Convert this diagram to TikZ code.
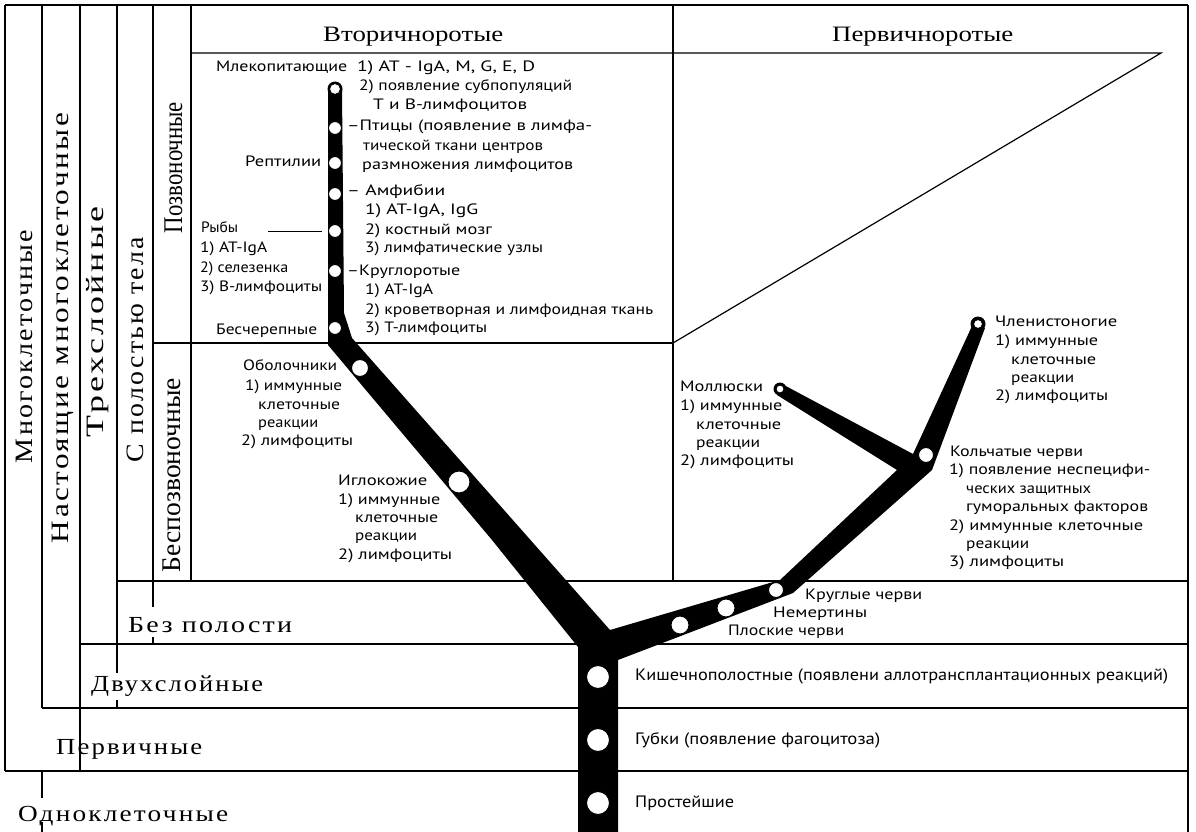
\documentclass[tikz,border=0pt]{standalone}
\usepackage{fontspec}
\usepackage{graphicx}
\setmainfont{PT Sans}
\newfontfamily\hdr{Liberation Serif}
\newfontfamily\hdrsp[LetterSpace=8]{Liberation Serif}
\newcommand\fitw[2]{\resizebox{#1pt}{\height}{#2}}
\tikzset{
  ln/.style={line width=1.2pt},
  sm/.style={anchor=mid west, inner sep=0pt, font=\fontsize{15}{17}\selectfont},
  bt/.style={anchor=mid west, inner sep=0pt, font=\fontsize{16.5}{19}\selectfont},
  hd/.style={anchor=base west, inner sep=0pt, font=\hdr\fontsize{22}{24}\selectfont},
  rowlab/.style={anchor=base west, inner sep=0pt, font=\hdrsp\fontsize{23}{26}\selectfont},
  vlab/.style={anchor=base, rotate=90, inner sep=0pt, font=\hdrsp\fontsize{25}{28}\selectfont},
  vlabb/.style={anchor=base, rotate=90, inner sep=0pt, font=\hdr\fontsize{27}{30}\selectfont},
  wc/.style={circle, fill=white, draw=black, line width=1pt, inner sep=0pt},
}
\begin{document}
\begin{tikzpicture}[x=1pt,y=-1pt]
\useasboundingbox (0,0) rectangle (1196,832);
\fill[white] (0,0) rectangle (1196,832);

% ---------- frame and grid ----------
\draw[ln] (5,5) -- (1188,5);
\draw[ln] (1188,5) -- (1188,832);
\draw[ln] (5,5) -- (5,771);
\draw[ln] (5,771) -- (1188,771);
\draw[ln] (42,708) -- (1188,708);
\draw[ln] (80,644) -- (1188,644);
\draw[ln] (117,581) -- (1188,581);
\draw[ln] (153,343) -- (673,343);
\draw[ln] (191,53) -- (1161,53) -- (673,343);
\draw[ln] (42,5) -- (42,708);
\draw[ln] (42,771) -- (42,798) (42,822) -- (42,832);
\draw[ln] (80,5) -- (80,771);
\draw[ln] (117,5) -- (117,673) (117,700) -- (117,708);
\draw[ln] (153,5) -- (153,607) (153,637) -- (153,644);
\draw[ln] (191,5) -- (191,581);
\draw[ln] (673,5) -- (673,581);

% ---------- tree ----------
\fill[black] (328,90) -- (328,345) -- (492,540) -- (578,647) -- (578,832) -- (618,832)
  -- (618,660) -- (793,593) -- (932,470) -- (985,328) -- (972,326) -- (913,454)
  -- (782,384) -- (777,395) -- (897,470) -- (780,580) -- (610,630) -- (352,338)
  -- (344,313) -- (342,90) -- cycle;
\fill[black] (335,89) circle[radius=7.5];
\fill[black] (780,389) circle[radius=6.5];
\fill[black] (978,324) circle[radius=7.5];

% circles
\node[wc, minimum size=11pt] (cmam) at (335,89) {};
\node[wc, minimum size=13pt] (cbird) at (335,128) {};
\node[wc, minimum size=13pt] (crept) at (335,163) {};
\node[wc, minimum size=13pt] (camph) at (335,194) {};
\node[wc, minimum size=13pt] (cfish) at (335,231) {};
\node[wc, minimum size=13pt] (ccycl) at (335,271) {};
\node[wc, minimum size=13pt] (cacr) at (335,328) {};
\node[wc, minimum size=17pt] (ctun) at (360,368) {};
\node[wc, minimum size=22pt] (cech) at (459,482) {};
\node[wc, minimum size=23pt] (ccoel) at (598,677) {};
\node[wc, minimum size=23pt] (cspon) at (598,740) {};
\node[wc, minimum size=23pt] (cprot) at (598,803) {};
\node[wc, minimum size=18pt] (cflat) at (680,625) {};
\node[wc, minimum size=18pt] (cnem) at (726,608) {};
\node[wc, minimum size=15pt] (cround) at (776,590) {};
\node[wc, minimum size=15pt] (cann) at (926,455) {};
\node[wc, minimum size=8pt] (cmol) at (780,389) {};
\node[wc, minimum size=9pt] (cart) at (978,324) {};

\draw[line width=1pt] ([xshift=-6pt]cfish.west) -- ([xshift=-60pt]cfish.west);

% ---------- headers ----------
\node[hd] (hsec) at (323,42) {\fitw{180}{Вторичноротые}};
\node[hd] (hprim) at (832,42) {\fitw{181}{Первичноротые}};
\node[rowlab] (runi) at (18,821) {\fitw{210}{Одноклеточные}};
\node[rowlab] (rpar) at (56,754) {\fitw{146}{Первичные}};
\node[rowlab] (rdip) at (91,691) {\fitw{172}{Двухслойные}};
\node[rowlab] (race) at (128,632) {\fitw{164}{Без полости}};

\node[vlab] (vmul) at (33,346.5) {\fitw{233}{Многоклеточные}};
\node[vlab] (veum) at (68,328) {\fitw{430}{Настоящие многоклеточные}};
\node[vlab] (vtri) at (103,322) {\fitw{230}{Трехслойные}};
\node[vlab] (vcoe) at (143,349.5) {\fitw{225}{С полостью тела}};
\node[vlabb] (vvert) at (182,167.5) {\fitw{131}{Позвоночные}};
\node[vlabb] (vinv) at (180,475) {\fitw{194}{Беспозвоночные}};

% ---------- vertebrates ----------
\node[sm] (tmam) at (216,69) {\fitw{131}{Млекопитающие}};
\node[sm] (tmam1) at (357,69) {\fitw{178}{1) АТ - IgA, M, G, E, D}};
\node[sm] (tmam2) at (359,88) {\fitw{213}{2) появление субпопуляций}};
\node[sm] (tmam3) at (373,107) {\fitw{154}{Т и В-лимфоцитов}};
\node[sm] (tbird) at (347,128) {\fitw{245}{–Птицы (появление в лимфа-}};
\node[sm] (tbird2) at (363,148) {\fitw{180}{тической ткани центров}};
\node[sm] (tbird3) at (362,167) {\fitw{211}{размножения лимфоцитов}};
\node[sm] (trept) at (245,164) {\fitw{76}{Рептилии}};
\node[sm] (tamph) at (347,193) {\fitw{98}{– Амфибии}};
\node[sm] (tamph1) at (365,212) {\fitw{113}{1) АТ-IgA, IgG}};
\node[sm] (tamph2) at (365,232) {\fitw{127}{2) костный мозг}};
\node[sm] (tamph3) at (365,250) {\fitw{178}{3) лимфатические узлы}};
\node[sm] (tcycl) at (347,273) {\fitw{113}{–Круглоротые}};
\node[sm] (tcycl1) at (365,292) {\fitw{68}{1) АТ-IgA}};
\node[sm] (tcycl2) at (365,312) {\fitw{288}{2) кроветворная и лимфоидная ткань}};
\node[sm] (tcycl3) at (365,330) {\fitw{122}{3) Т-лимфоциты}};
\node[sm] (tacr) at (216,332) {\fitw{101}{Бесчерепные}};
\node[sm] (tfish) at (201,230) {\fitw{37}{Рыбы}};
\node[sm] (tfish1) at (200,250) {\fitw{67}{1) АТ-IgA}};
\node[sm] (tfish2) at (200,270) {\fitw{88}{2) селезенка}};
\node[sm] (tfish3) at (200,289) {\fitw{122}{3) В-лимфоциты}};

% ---------- invertebrates (deuterostomes) ----------
\node[sm] (ttun) at (243,368) {\fitw{94}{Оболочники}};
\node[sm] (ttun1) at (245,388) {\fitw{97}{1) иммунные}};
\node[sm] (ttun2) at (258,407) {\fitw{82}{клеточные}};
\node[sm] (ttun3) at (258,425) {\fitw{60}{реакции}};
\node[sm] (ttun4) at (241,443) {\fitw{112}{2) лимфоциты}};
\node[sm] (tech) at (338,483) {\fitw{89}{Иглокожие}};
\node[sm] (tech1) at (338,502) {\fitw{102}{1) иммунные}};
\node[sm] (tech2) at (355,520) {\fitw{83}{клеточные}};
\node[sm] (tech3) at (355,538) {\fitw{62}{реакции}};
\node[sm] (tech4) at (338,557) {\fitw{114}{2) лимфоциты}};

% ---------- protostomes ----------
\node[sm] (tmol) at (680,389) {\fitw{83}{Моллюски}};
\node[sm] (tmol1) at (680,408) {\fitw{102}{1) иммунные}};
\node[sm] (tmol2) at (696,427) {\fitw{85}{клеточные}};
\node[sm] (tmol3) at (696,445) {\fitw{64}{реакции}};
\node[sm] (tmol4) at (680,463) {\fitw{114}{2) лимфоциты}};
\node[sm] (tart) at (995,324) {\fitw{122}{Членистоногие}};
\node[sm] (tart1) at (995,343) {\fitw{103}{1) иммунные}};
\node[sm] (tart2) at (1011,362) {\fitw{85}{клеточные}};
\node[sm] (tart3) at (1011,380) {\fitw{63}{реакции}};
\node[sm] (tart4) at (995,398) {\fitw{113}{2) лимфоциты}};
\node[sm] (tann) at (950,454) {\fitw{133}{Кольчатые черви}};
\node[sm] (tann1) at (949,472) {\fitw{201}{1) появление неспецифи-}};
\node[sm] (tann2) at (966,491) {\fitw{125}{ческих защитных}};
\node[sm] (tann3) at (966,509) {\fitw{182}{гуморальных факторов}};
\node[sm] (tann4) at (949,528) {\fitw{194}{2) иммунные клеточные}};
\node[sm] (tann5) at (966,546) {\fitw{63}{реакции}};
\node[sm] (tann6) at (949,564) {\fitw{115}{3) лимфоциты}};
\node[sm] (tround) at (805,597) {\fitw{117}{Круглые черви}};
\node[sm] (tnem) at (773,615) {\fitw{94}{Немертины}};
\node[sm] (tflat) at (728,633) {\fitw{116}{Плоские черви}};

% ---------- lower rows ----------
\node[bt] (tcoel) at (635,678) {\fitw{533}{Кишечнополостные (появлени аллотрансплантационных реакций)}};
\node[bt] (tspon) at (635,742) {\fitw{245}{Губки (появление фагоцитоза)}};
\node[bt] (tprot) at (635,805) {\fitw{99}{Простейшие}};
\end{tikzpicture}
\end{document}
